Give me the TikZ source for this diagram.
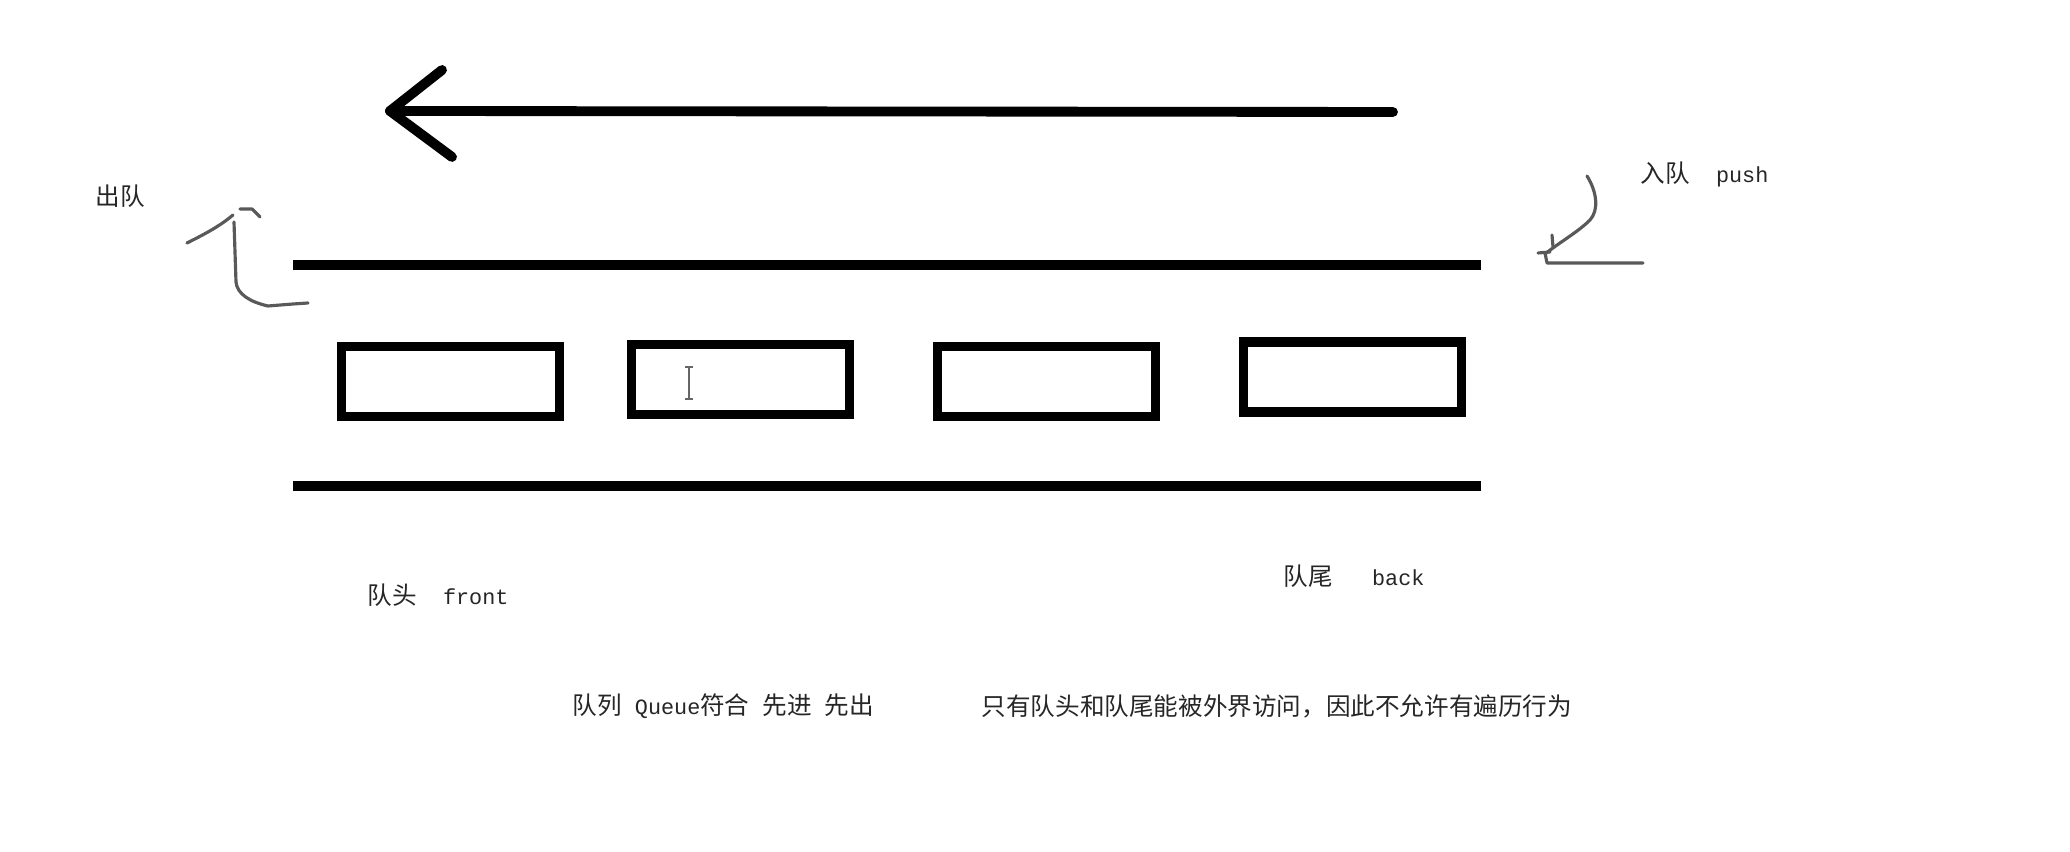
\documentclass[tikz,border=0pt]{standalone}
\usepackage{fontspec}
\setmainfont{Noto Sans CJK SC}
\setmonofont{Liberation Mono}
\usetikzlibrary{arrows.meta}

\newcommand{\lt}[1]{{\fontsize{6.2}{8}\ttfamily #1}}

\tikzset{
  rail/.style={line width=2.6pt},
  slot/.style={draw, line width=2.7pt, minimum width=2.18cm, minimum height=0.70cm, inner sep=0pt},
  sketch/.style={black!65, line width=0.9pt, line cap=round, line join=round},
  lbl/.style={anchor=west, inner sep=0pt, text=black!85, font=\fontsize{7}{8}\selectfont}
}

\begin{document}
\begin{tikzpicture}
        \useasboundingbox (0,0) rectangle (20.70,8.52);

        % Big arrow
        \coordinate (tail) at (13.93,7.40);
        \coordinate (tip) at (3.90,7.41);
        \coordinate (armU) at (4.42,7.82);
        \coordinate (armL) at (4.52,6.95);
        \draw[line width=2.8pt, line cap=round] (tail) -- (tip);
        \draw[line width=2.8pt, line cap=round, line join=round] (armU) -- (tip) -- (armL);

        % Rails
        \draw[rail] (2.93,5.87) -- (14.81,5.87); % upper rail
        \draw[rail] (2.93,3.66) -- (14.81,3.66); % lower rail

        % Cells
        \foreach \n/\x/\y in {1/4.505/4.705, 2/7.405/4.725, 3/10.465/4.705, 4/13.525/4.75}
            \node[slot] (cell\n) at (\x,\y) {};

        % Text cursor in second cell
        \draw[black!60, line width=0.6pt] (6.89,4.54) -- (6.89,4.84);
        \draw[black!60, line width=0.6pt] (6.85,4.85) -- (6.93,4.85);
        \draw[black!60, line width=0.6pt] (6.85,4.53) -- (6.93,4.53);

        % Hand drawn arrow on the left
        \draw[sketch] (3.08,5.49) -- (2.93,5.48) -- (2.68,5.46)
            .. controls (2.50,5.50) and (2.37,5.58) .. (2.36,5.70) -- (2.34,6.30);
        \draw[sketch] (1.87,6.09) .. controls (2.05,6.18) and (2.20,6.26) .. (2.33,6.37);
        \draw[sketch] (2.40,6.43) -- (2.52,6.43) -- (2.60,6.35);

        % Hand drawn arrow on the right
        \draw[sketch] (15.87,6.76) .. controls (15.97,6.60) and (15.99,6.42) .. (15.90,6.32)
            .. controls (15.78,6.20) and (15.60,6.10) .. (15.45,5.98);
        \draw[sketch] (15.52,6.17) -- (15.53,6.05);
        \draw[sketch] (15.38,5.99) -- (15.50,6.00);
        \draw[sketch] (15.45,5.99) -- (15.47,5.89) -- (16.43,5.89);

        % Labels
        \node[lbl] (out) at (0.95,6.56) {出队};
        \node[lbl] (in) at (16.40,6.78) {入队\lt{~~push}};
        \node[lbl] (front) at (3.67,2.57) {队头\lt{~~front}};
        \node[lbl] (back) at (12.83,2.76) {队尾\lt{~~~back}};
        \node[lbl] (rule) at (5.72,1.46) {队列\lt{~Queue}符合\lt{~}先进\lt{~}先出};
        \node[lbl] (note) at (9.81,1.46) {只有队头和队尾能被外界访问，因此不允许有遍历行为};
\end{tikzpicture}
\end{document}
